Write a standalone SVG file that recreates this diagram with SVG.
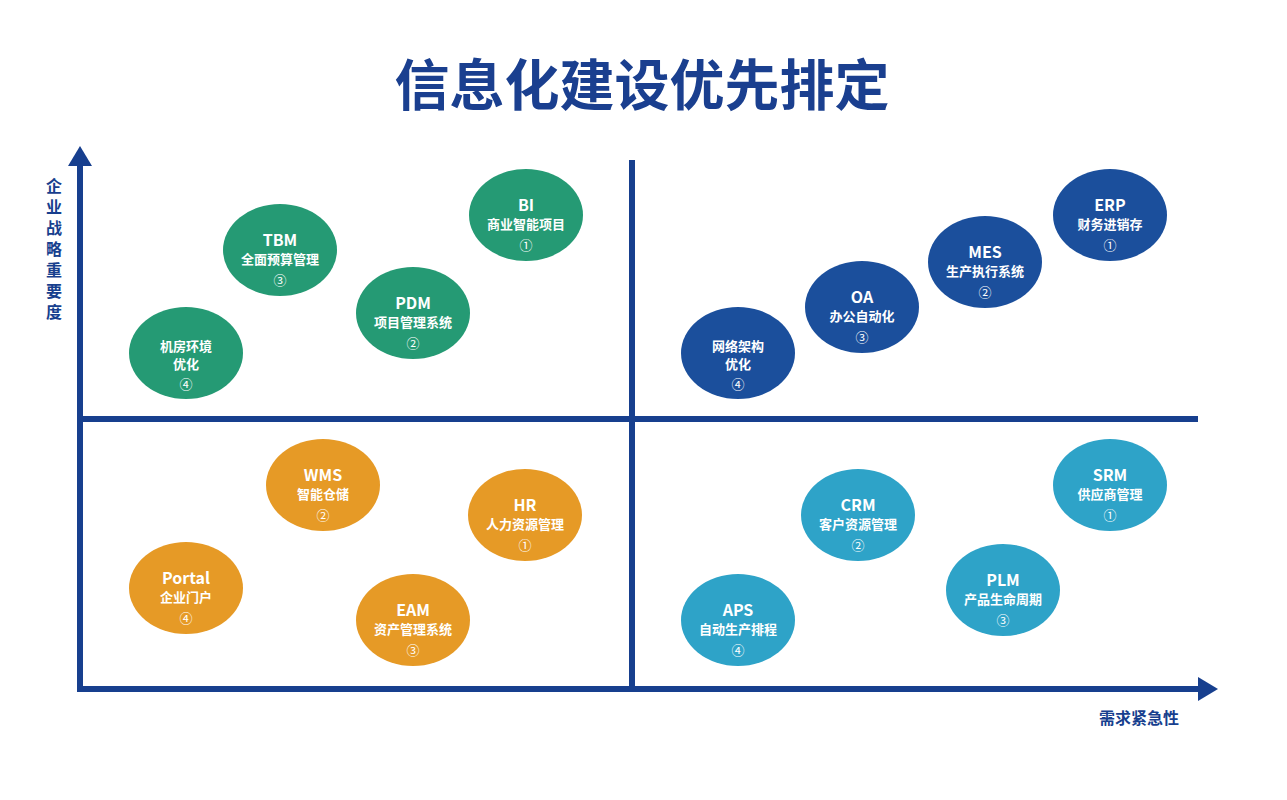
<svg xmlns="http://www.w3.org/2000/svg" width="1287" height="800" viewBox="0 0 1287 800">
<style>
text{font-family:"Noto Sans CJK SC","Liberation Sans",sans-serif;font-weight:bold;text-anchor:middle;fill:#fff}
.a{font-size:16px}.b{font-size:13px}.c{font-size:13px;font-weight:normal}
.y{font-size:16px;fill:#173f8e}
.g{fill:#259a74}.bl{fill:#1b4f9c}.o{fill:#e69a26}.cy{fill:#2ea3c8}
.ax{stroke:#173f8e;stroke-width:6;fill:none}
</style>
<rect width="1287" height="800" fill="#fff"/>
<text x="642" y="105" style="font-size:55px;fill:#1a3f8f">信息化建设优先排定</text>
<g id="connectors">
<line class="ax" x1="80" y1="692" x2="80" y2="165"/>
<polygon points="80,146 68,166 92,166" fill="#173f8e"/>
<line class="ax" x1="77" y1="689" x2="1200" y2="689"/>
<polygon points="1218,689 1198,677 1198,701" fill="#173f8e"/>
<line class="ax" x1="632" y1="160" x2="632" y2="686"/>
<line class="ax" x1="82" y1="419" x2="1198" y2="419"/>
</g>
<text class="y" x="54" y="192"><tspan x="54">企</tspan><tspan x="54" dy="21">业</tspan><tspan x="54" dy="21">战</tspan><tspan x="54" dy="21">略</tspan><tspan x="54" dy="21">重</tspan><tspan x="54" dy="21">要</tspan><tspan x="54" dy="21">度</tspan></text>
<text x="1139" y="724" style="font-size:16px;fill:#173f8e">需求紧急性</text>
<g id="BI"><ellipse class="g" cx="526" cy="215" rx="57" ry="46"/><text class="a" x="526" y="211">BI</text><text class="b" x="526" y="229">商业智能项目</text><text class="c" x="526" y="250">①</text></g>
<g id="TBM"><ellipse class="g" cx="280" cy="250" rx="57" ry="46"/><text class="a" x="280" y="246">TBM</text><text class="b" x="280" y="264">全面预算管理</text><text class="c" x="280" y="285">③</text></g>
<g id="PDM"><ellipse class="g" cx="413" cy="313" rx="57" ry="46"/><text class="a" x="413" y="309">PDM</text><text class="b" x="413" y="327">项目管理系统</text><text class="c" x="413" y="348">②</text></g>
<g id="JF"><ellipse class="g" cx="186" cy="353" rx="57" ry="46"/><text class="b" x="186" y="351">机房环境</text><text class="b" x="186" y="369">优化</text><text class="c" x="186" y="389">④</text></g>
<g id="ERP"><ellipse class="bl" cx="1110" cy="215" rx="57" ry="46"/><text class="a" x="1110" y="211">ERP</text><text class="b" x="1110" y="229">财务进销存</text><text class="c" x="1110" y="250">①</text></g>
<g id="MES"><ellipse class="bl" cx="985" cy="262" rx="57" ry="46"/><text class="a" x="985" y="258">MES</text><text class="b" x="985" y="276">生产执行系统</text><text class="c" x="985" y="297">②</text></g>
<g id="OA"><ellipse class="bl" cx="862" cy="307" rx="57" ry="46"/><text class="a" x="862" y="303">OA</text><text class="b" x="862" y="321">办公自动化</text><text class="c" x="862" y="342">③</text></g>
<g id="WL"><ellipse class="bl" cx="738" cy="353" rx="57" ry="46"/><text class="b" x="738" y="351">网络架构</text><text class="b" x="738" y="369">优化</text><text class="c" x="738" y="389">④</text></g>
<g id="WMS"><ellipse class="o" cx="323" cy="485" rx="57" ry="46"/><text class="a" x="323" y="481">WMS</text><text class="b" x="323" y="499">智能仓储</text><text class="c" x="323" y="520">②</text></g>
<g id="HR"><ellipse class="o" cx="525" cy="515" rx="57" ry="46"/><text class="a" x="525" y="511">HR</text><text class="b" x="525" y="529">人力资源管理</text><text class="c" x="525" y="550">①</text></g>
<g id="Portal"><ellipse class="o" cx="186" cy="588" rx="57" ry="46"/><text class="a" x="186" y="584">Portal</text><text class="b" x="186" y="602">企业门户</text><text class="c" x="186" y="623">④</text></g>
<g id="EAM"><ellipse class="o" cx="413" cy="620" rx="57" ry="46"/><text class="a" x="413" y="616">EAM</text><text class="b" x="413" y="634">资产管理系统</text><text class="c" x="413" y="655">③</text></g>
<g id="SRM"><ellipse class="cy" cx="1110" cy="485" rx="57" ry="46"/><text class="a" x="1110" y="481">SRM</text><text class="b" x="1110" y="499">供应商管理</text><text class="c" x="1110" y="520">①</text></g>
<g id="CRM"><ellipse class="cy" cx="858" cy="515" rx="57" ry="46"/><text class="a" x="858" y="511">CRM</text><text class="b" x="858" y="529">客户资源管理</text><text class="c" x="858" y="550">②</text></g>
<g id="PLM"><ellipse class="cy" cx="1003" cy="590" rx="57" ry="46"/><text class="a" x="1003" y="586">PLM</text><text class="b" x="1003" y="604">产品生命周期</text><text class="c" x="1003" y="625">③</text></g>
<g id="APS"><ellipse class="cy" cx="738" cy="620" rx="57" ry="46"/><text class="a" x="738" y="616">APS</text><text class="b" x="738" y="634">自动生产排程</text><text class="c" x="738" y="655">④</text></g>
</svg>
